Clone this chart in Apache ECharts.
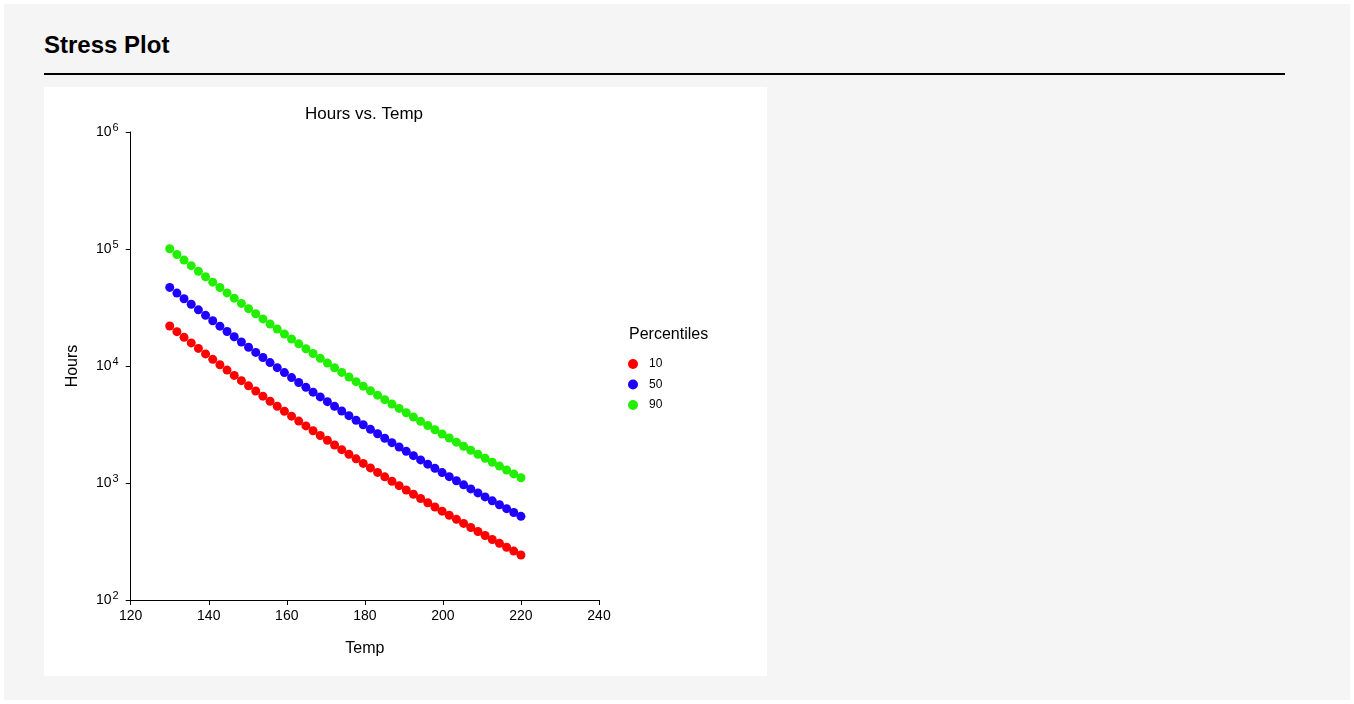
<!DOCTYPE html>
<html>
<head>
<meta charset="utf-8">
<script src="https://cdn.jsdelivr.net/npm/echarts@6/dist/echarts.min.js"></script>
<style>
  html, body { margin: 0; padding: 0; background: #ffffff; width: 1354px; height: 704px; overflow: hidden; }
  #page { position: absolute; left: 4px; top: 4px; width: 1346px; height: 696px; background: #f5f5f5; }
  #head { position: absolute; left: 44px; top: 31px; font: bold 24px Arial, "Liberation Sans", sans-serif; color: #000; }
  #rule { position: absolute; left: 44px; top: 73px; width: 1241px; height: 2px; background: #000; }
  #chart { position: absolute; left: 44px; top: 87px; width: 723px; height: 589px; background: #ffffff; }
</style>
</head>
<body>
<div id="page"></div>
<div id="head">Stress Plot</div>
<div id="rule"></div>
<div id="chart"></div>
<script>
const temps = [130, 131.84, 133.67, 135.51, 137.35, 139.18, 141.02, 142.86, 144.69, 146.53,
  148.37, 150.20, 152.04, 153.88, 155.71, 157.55, 159.39, 161.22, 163.06, 164.90,
  166.73, 168.57, 170.41, 172.24, 174.08, 175.92, 177.76, 179.59, 181.43, 183.27,
  185.10, 186.94, 188.78, 190.61, 192.45, 194.29, 196.12, 197.96, 199.80, 201.63,
  203.47, 205.31, 207.14, 208.98, 210.82, 212.65, 214.49, 216.33, 218.16, 220];

const p10 = [21978, 19650, 17586, 15755, 14128, 12682, 11394, 10247, 9224, 8315,
  7495, 6765, 6111, 5526, 5001, 4530, 4106, 3726, 3383, 3074,
  2796, 2545, 2318, 2113, 1928, 1760, 1608, 1471, 1345, 1232,
  1128.7, 1035.1, 949.5, 871.8, 801.3, 736.7, 677.7, 623.9, 574.4, 530.0,
  488.8, 451.2, 416.5, 385.0, 356.0, 329.2, 304.8, 282.4, 261.7, 242.6];

const p50 = [46989, 42012, 37599, 33683, 30205, 27113, 24360, 21908, 19720, 17778,
  16023, 14463, 13066, 11815, 10692, 9684, 8779, 7965, 7232, 6572,
  5978, 5441, 4956, 4518, 4122, 3763, 3438, 3144, 2876, 2634,
  2413, 2213, 2030, 1864, 1713, 1575, 1449, 1334, 1228, 1133,
  1045, 964.4, 890.6, 823.0, 761.0, 704.1, 651.8, 603.7, 559.5, 518.8];

const p90 = [100461, 89820, 80385, 72013, 64577, 57967, 52081, 46839, 42161, 38009,
  34257, 30921, 27935, 25260, 22859, 20704, 18769, 17029, 15462, 14051,
  12781, 11633, 10596, 9659, 8813, 8045, 7350, 6722, 6149, 5631,
  5159, 4731, 4340, 3985, 3662, 3367, 3098, 2852, 2625, 2422,
  2234, 2062, 1904, 1760, 1627, 1505, 1394, 1291, 1196, 1109];

const seriesNames = ['10', '50', '90'];
const seriesColors = ['#ff0000', '#1e00ff', '#22ee00'];
const seriesValues = [p10, p50, p90];

const FONT = 'Arial, "Liberation Sans", sans-serif';
const chart = echarts.init(document.getElementById('chart'), null, { renderer: 'canvas' });

chart.setOption({
  animation: false,
  backgroundColor: '#ffffff',
  title: [
    { text: 'Hours vs. Temp', left: 315, top: 13.5, textAlign: 'center',
      textStyle: { fontFamily: FONT, fontSize: 17, fontWeight: 'normal', color: '#000' } },
    { text: 'Percentiles', left: 580, top: 235,
      textStyle: { fontFamily: FONT, fontSize: 16, fontWeight: 'normal', color: '#000' } }
  ],
  legend: {
    orient: 'vertical', left: 579, top: 266,
    icon: 'circle', itemWidth: 10, itemHeight: 10, itemGap: 8.5,
    data: seriesNames,
    textStyle: { fontFamily: FONT, fontSize: 12, color: '#000', padding: [0, 0, 0, 6] }
  },
  grid: { left: 86.7, top: 45, width: 468.3, height: 468, containLabel: false },
  xAxis: {
    type: 'value', min: 120, max: 240, interval: 20,
    name: 'Temp', nameLocation: 'middle', nameGap: 41,
    nameTextStyle: { fontFamily: FONT, fontSize: 16, color: '#000' },
    axisLine: { show: true, onZero: false, lineStyle: { color: '#000', width: 1 } },
    axisTick: { show: true, inside: false, length: 5, lineStyle: { color: '#000' } },
    axisLabel: { fontFamily: FONT, fontSize: 14, color: '#000', margin: 9 },
    splitLine: { show: false }
  },
  yAxis: {
    type: 'log', logBase: 10, min: 100, max: 1000000,
    name: 'Hours', nameLocation: 'middle', nameGap: 50, nameRotate: 90,
    nameTextStyle: { fontFamily: FONT, fontSize: 16, color: '#000' },
    axisLine: { show: true, onZero: false, lineStyle: { color: '#000', width: 1 } },
    axisTick: { show: true, inside: false, length: 5, lineStyle: { color: '#000' } },
    axisLabel: {
      margin: 12,
      formatter: function (v) { return '{b|10}{s|' + Math.round(Math.log10(v)) + '}'; },
      rich: {
        b: { fontFamily: FONT, fontSize: 14, color: '#000' },
        s: { fontFamily: FONT, fontSize: 11, color: '#000', verticalAlign: 'top', padding: [0, 0, 8, 1] }
      }
    },
    splitLine: { show: false }
  },
  series: seriesNames.map(function (name, k) {
    return {
      name: name, type: 'scatter', symbol: 'circle', symbolSize: 9,
      itemStyle: { color: seriesColors[k], opacity: 1 },
      data: temps.map(function (t, i) { return [t, seriesValues[k][i]]; })
    };
  })
});
</script>
</body>
</html>
